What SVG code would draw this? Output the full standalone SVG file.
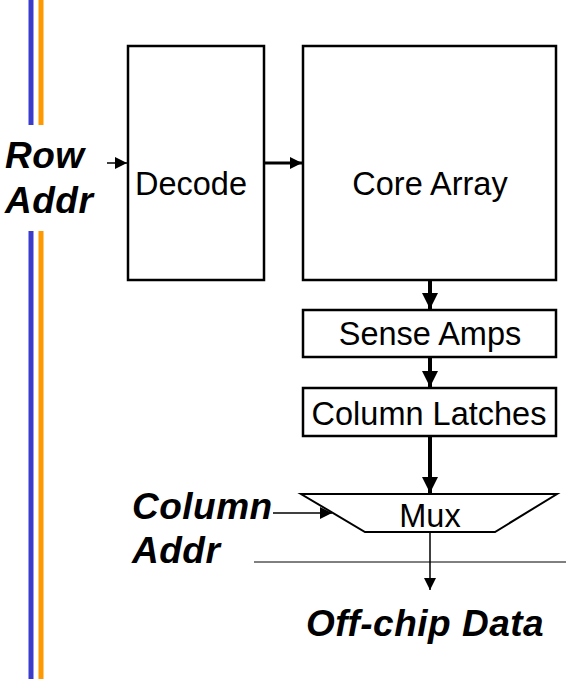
<svg xmlns="http://www.w3.org/2000/svg" width="566" height="679" viewBox="0 0 566 679">
<style>
.box{fill:#fff;stroke:#000;stroke-width:2.5}
.lbl{font-family:"Liberation Sans",Arial,sans-serif;font-size:32.5px;fill:#000;text-anchor:middle}
.big{font-family:"Liberation Sans",Arial,sans-serif;font-size:37px;letter-spacing:0.5px;font-weight:bold;font-style:italic;fill:#000}
.thick{stroke:#000;stroke-width:4;fill:none}
.thin{stroke:#000;stroke-width:1.5;fill:none}
</style>
<defs>
<marker id="ah" viewBox="0 0 10 10" refX="10" refY="5" markerWidth="4" markerHeight="4" markerUnits="strokeWidth" orient="auto"><path d="M0,0 L10,5 L0,10 z" fill="#000"/></marker>
<marker id="ahs" viewBox="0 0 10 10" refX="10" refY="5" markerWidth="8" markerHeight="8" markerUnits="strokeWidth" orient="auto"><path d="M0,0 L10,5 L0,10 z" fill="#000"/></marker>
</defs>
<g id="rails">
<line x1="31" y1="0" x2="31" y2="125" stroke="#3c3ccc" stroke-width="5"/>
<line x1="31" y1="231" x2="31" y2="679" stroke="#3c3ccc" stroke-width="5"/>
<line x1="41" y1="0" x2="41" y2="125" stroke="#ff9900" stroke-width="5"/>
<line x1="41" y1="231" x2="41" y2="679" stroke="#ff9900" stroke-width="5"/>
</g>
<g id="decode"><rect class="box" x="128" y="46" width="136" height="234"/><text class="lbl" x="191" y="195">Decode</text></g>
<g id="core"><rect class="box" x="303" y="46" width="253" height="234"/><text class="lbl" x="430" y="195">Core Array</text></g>
<g id="sense"><rect class="box" x="303" y="310" width="253" height="47"/><text class="lbl" x="430" y="345">Sense Amps</text></g>
<g id="latches"><rect class="box" x="303" y="388" width="253" height="48"/><text class="lbl" x="429" y="425">Column Latches</text></g>
<g id="mux"><polygon points="301,494 557,494 495,532 365,532" fill="#fff" stroke="#000" stroke-width="2"/><text class="lbl" x="430" y="527">Mux</text></g>
<g id="labels">
<text class="big" x="5" y="168">Row</text>
<text class="big" x="5" y="213">Addr</text>
<text class="big" x="132" y="519">Column</text>
<text class="big" x="132" y="563">Addr</text>
<text class="big" x="306" y="636">Off-chip Data</text>
</g>
<g id="connectors">
<line class="thin" x1="107" y1="163" x2="127" y2="163" marker-end="url(#ahs)"/>
<line class="thick" x1="265" y1="163" x2="302" y2="163" marker-end="url(#ah)" style="stroke-width:3"/>
<line class="thick" x1="430" y1="281" x2="430" y2="309" marker-end="url(#ah)"/>
<line class="thick" x1="430" y1="358" x2="430" y2="387" marker-end="url(#ah)"/>
<line class="thick" x1="430" y1="437" x2="430" y2="493" marker-end="url(#ah)"/>
<line class="thin" x1="273" y1="513" x2="332" y2="513" marker-end="url(#ahs)"/>
<line class="thin" x1="430" y1="533" x2="430" y2="590" marker-end="url(#ahs)"/>
<line x1="254" y1="562" x2="566" y2="562" stroke="#000" stroke-width="1"/>
</g>
</svg>
